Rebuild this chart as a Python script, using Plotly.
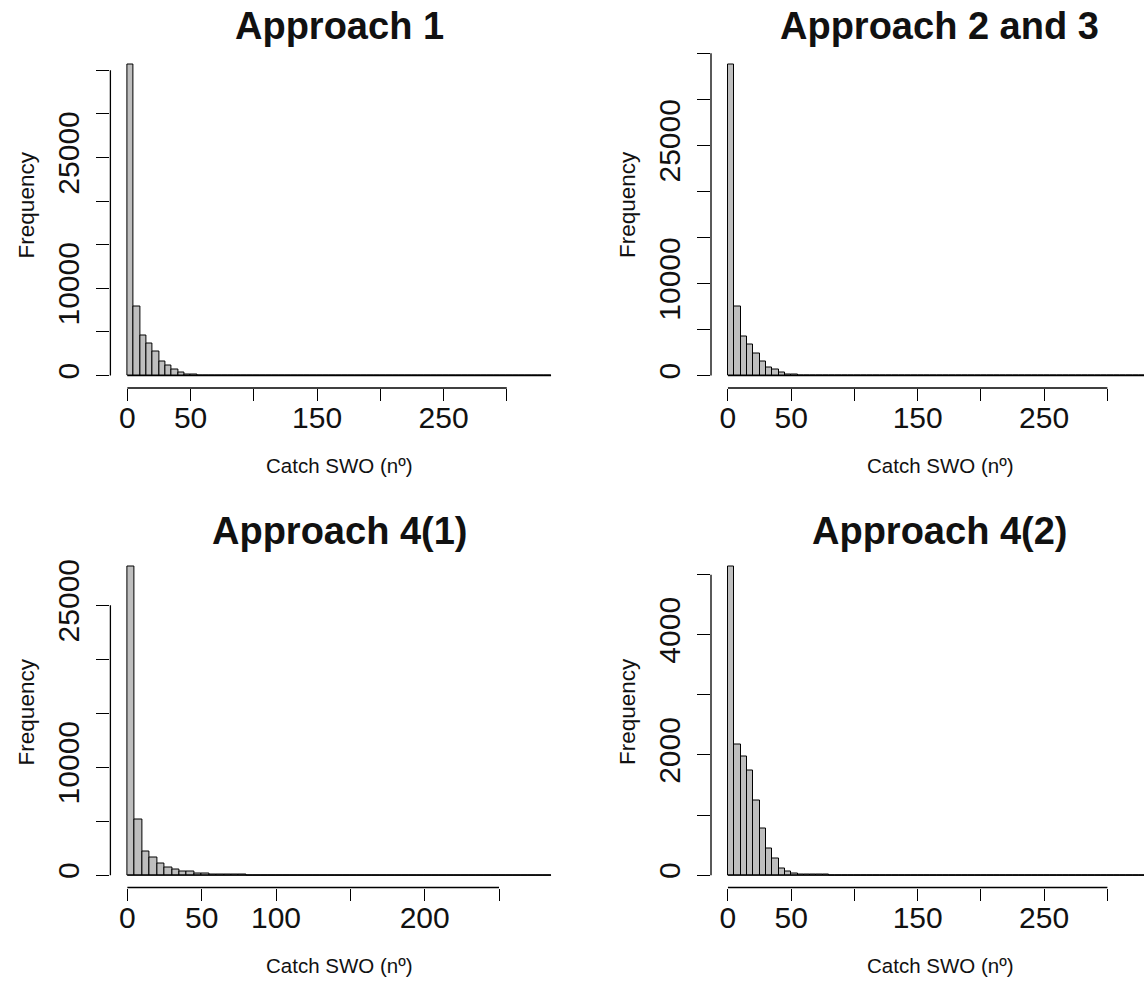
import plotly.graph_objects as go

# ---------------- data ----------------
titles = ["Approach 1", "Approach 2 and 3", "Approach 4(1)", "Approach 4(2)"]
bin_width = 5
n_bins = [67, 67, 57, 67]          # 0-335, 0-335, 0-285, 0-335

# counts of the non-empty leading bins (0-5, 5-10, ...); remaining bins are empty
counts_a1 = [35600, 7900, 4600, 3730, 2770, 1650, 1150, 690, 380, 180, 90, 60, 40, 30, 20, 15, 10]
counts_a23 = [33730, 7470, 4190, 3355, 2440, 1530, 910, 620, 360, 170, 90, 60, 40, 25, 15, 10]
counts_a41 = [28550, 5160, 2220, 1600, 1080, 710, 530, 370, 310, 200, 130, 90, 60, 40, 30, 20, 10]
counts_a42 = [5130, 2167, 1970, 1740, 1240, 770, 440, 270, 105, 55, 20, 12, 8, 6, 4, 3]

x_ticks_a = [0, 50, 100, 150, 200, 250, 300]
x_labels_a = ["0", "50", "", "150", "", "250", ""]
x_ticks_b = [0, 50, 100, 150, 200, 250]
x_labels_b = ["0", "50", "100", "", "200", ""]

y_ticks_big = [0, 5000, 10000, 15000, 20000, 25000, 30000, 35000]
y_labels_big = ["0", "", "10000", "", "", "25000", "", ""]
y_ticks_b3 = [0, 5000, 10000, 15000, 20000, 25000]
y_labels_b3 = ["0", "", "10000", "", "", "25000"]
y_ticks_small = [0, 1000, 2000, 3000, 4000, 5000]
y_labels_small = ["0", "", "2000", "", "4000", ""]

x_title = "Catch SWO (nº)"
y_title = "Frequency"

# ---------------- layout geometry (screen pixels) ----------------
W, H = 1144, 989
OFF = 0                      # page margin is removed below (post_script)
FW, FH = W - OFF, H - OFF    # figure size
col_px = [(110.4, 568.0), (711.0, 1168.6)]     # R plot regions (right column cropped by image)
row_px = [(52.5, 388.0), (554.5, 887.5)]
title_cy = [26, 531]
ylab_cy = [205, 712]

panels = [
    dict(title=titles[0], counts=counts_a1, nb=n_bins[0], col=0, row=0,
         xt=x_ticks_a, xl=x_labels_a, yt=y_ticks_big, yl=y_labels_big),
    dict(title=titles[1], counts=counts_a23, nb=n_bins[1], col=1, row=0,
         xt=x_ticks_a, xl=x_labels_a, yt=y_ticks_big, yl=y_labels_big),
    dict(title=titles[2], counts=counts_a41, nb=n_bins[2], col=0, row=1,
         xt=x_ticks_b, xl=x_labels_b, yt=y_ticks_b3, yl=y_labels_b3),
    dict(title=titles[3], counts=counts_a42, nb=n_bins[3], col=1, row=1,
         xt=x_ticks_a, xl=x_labels_a, yt=y_ticks_small, yl=y_labels_small),
]

FONT = "Liberation Sans, Arial, sans-serif"
TXT = "#111111"
fig = go.Figure()
layout = dict(width=FW, height=FH, margin=dict(l=0, r=0, t=0, b=0),
              paper_bgcolor="white", plot_bgcolor="rgba(0,0,0,0)", showlegend=False,
              bargap=0, barmode="overlay", annotations=[])


def fx(px):
    return (px - OFF) / FW


def fy(py):
    return 1 - (py - OFF) / FH


axis_line_x, axis_line_y = [], []

for i, p in enumerate(panels, start=1):
    edges = [k * bin_width for k in range(p["nb"] + 1)]
    counts = p["counts"] + [0] * (p["nb"] - len(p["counts"]))
    centers = [(edges[k] + edges[k + 1]) / 2 for k in range(p["nb"])]
    xa, ya = ("x%d" % i, "y%d" % i)

    # R-style 4% axis extension
    x0, x1 = edges[0], edges[-1]
    xr = [x0 - 0.04 * (x1 - x0), x1 + 0.04 * (x1 - x0)]
    y0, y1 = 0, max(counts)
    yr = [y0 - 0.04 * (y1 - y0), y1 + 0.04 * (y1 - y0)]

    cx0, cx1 = col_px[p["col"]]
    ry0, ry1 = row_px[p["row"]]
    dx1 = min(cx1, W)
    xr_vis = [xr[0], xr[0] + (xr[1] - xr[0]) * (dx1 - cx0) / (cx1 - cx0)]

    fig.add_trace(go.Bar(x=centers, y=counts, width=bin_width,
                         marker=dict(color="#BEBEBE", line=dict(color="black", width=1)),
                         xaxis=xa, yaxis=ya, hoverinfo="skip"))
    fig.add_trace(go.Scatter(x=[edges[0], edges[-1]], y=[0, 0], mode="lines",
                             line=dict(color="black", width=1.3),
                             xaxis=xa, yaxis=ya, hoverinfo="skip"))

    axkey = "" if i == 1 else str(i)
    layout["xaxis" + axkey] = dict(
        domain=[fx(cx0), fx(dx1)], range=xr_vis, anchor=ya,
        showline=False, showgrid=False, zeroline=False,
        ticks="outside", ticklen=12, tickwidth=1.3, tickcolor="black",
        tickvals=p["xt"], ticktext=p["xl"], ticklabelstandoff=-9,
        tickfont=dict(family=FONT, size=30, color=TXT), fixedrange=True)
    layout["yaxis" + axkey] = dict(
        domain=[fy(ry1), fy(ry0)], range=yr, anchor=xa,
        showline=False, showgrid=False, zeroline=False,
        ticks="outside", ticklen=13, tickwidth=1.3, tickcolor="black",
        tickvals=p["yt"], ticktext=p["yl"], tickangle=-90, ticklabelstandoff=5,
        tickfont=dict(family=FONT, size=30, color=TXT), fixedrange=True)

    # axis lines from first to last tick (R style), in figure pixels
    def xpix(v):
        return cx0 + (v - xr[0]) / (xr[1] - xr[0]) * (cx1 - cx0)

    def ypix(v):
        return ry1 - (v - yr[0]) / (yr[1] - yr[0]) * (ry1 - ry0)

    axis_line_x += [xpix(p["xt"][0]) - OFF, min(xpix(p["xt"][-1]), W) - OFF, None,
                    cx0 - OFF, cx0 - OFF, None]
    axis_line_y += [ry1 - OFF, ry1 - OFF, None,
                    ypix(p["yt"][0]) - OFF, ypix(p["yt"][-1]) - OFF, None]

    mid_x = (cx0 + cx1) / 2
    layout["annotations"].append(dict(
        text="<b>%s</b>" % p["title"], xref="paper", yref="paper",
        x=fx(mid_x), y=fy(title_cy[p["row"]]), xanchor="center", yanchor="middle",
        showarrow=False, font=dict(family=FONT, size=38, color=TXT)))
    layout["annotations"].append(dict(
        text=x_title, xref="paper", yref="paper",
        x=fx(mid_x), y=fy(ry1 + 78), xanchor="center", yanchor="middle", showarrow=False,
        font=dict(family=FONT, size=20.5, color=TXT)))
    layout["annotations"].append(dict(
        text=y_title, xref="paper", yref="paper", textangle=-90,
        x=fx(cx0 - 84), y=fy(ylab_cy[p["row"]]), xanchor="center", yanchor="middle",
        showarrow=False, font=dict(family=FONT, size=22.5, color=TXT)))

# full-figure pixel overlay used only to draw the R-style axis lines
fig.add_trace(go.Scatter(x=axis_line_x, y=axis_line_y, mode="lines",
                         line=dict(color="black", width=1.3),
                         xaxis="x5", yaxis="y5", hoverinfo="skip", connectgaps=False))
layout["xaxis5"] = dict(domain=[0, 1], range=[0, FW], anchor="y5", visible=False, fixedrange=True)
layout["yaxis5"] = dict(domain=[0, 1], range=[FH, 0], anchor="x5", visible=False, fixedrange=True)

fig.update_layout(**layout)
fig.write_html("out.html", config={"displayModeBar": False},
               post_script="document.body.style.margin='0px';")
